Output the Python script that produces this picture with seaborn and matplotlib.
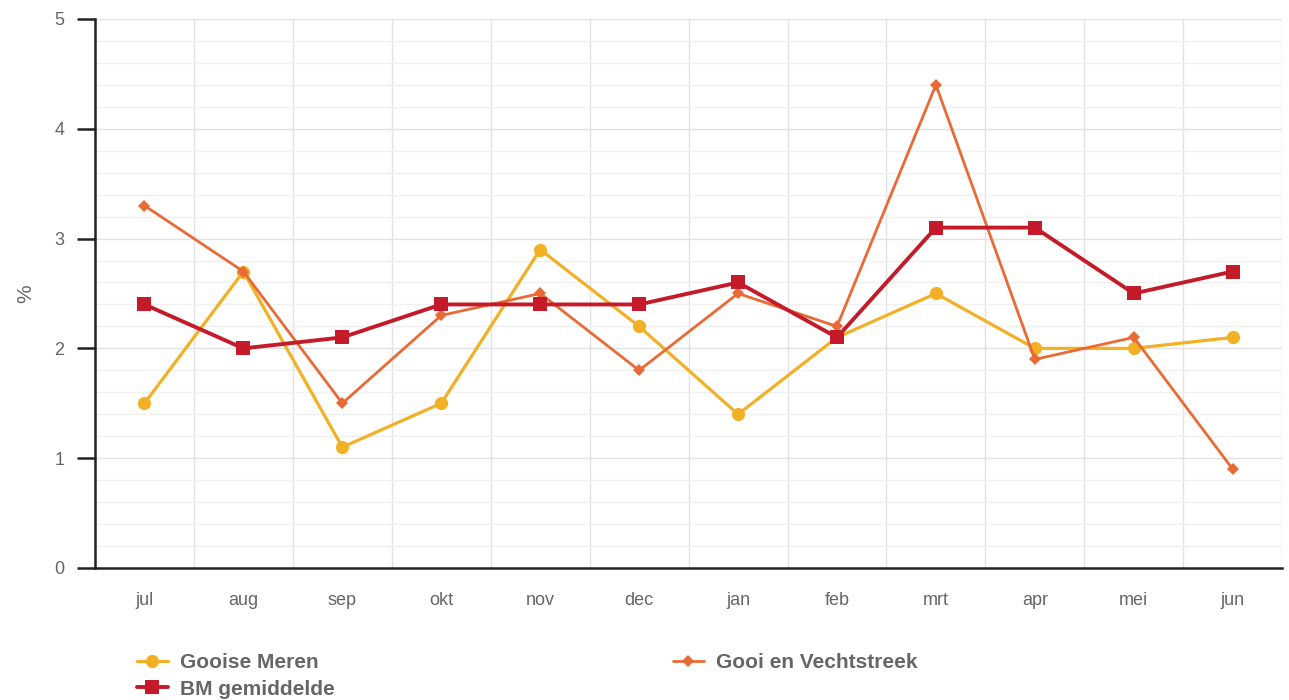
import matplotlib
matplotlib.use('Agg')
import matplotlib.pyplot as plt
import seaborn as sns
import numpy as np
from matplotlib.ticker import MultipleLocator

months = ['jul', 'aug', 'sep', 'okt', 'nov', 'dec',
          'jan', 'feb', 'mrt', 'apr', 'mei', 'jun']
gooise_meren = [1.5, 2.7, 1.1, 1.5, 2.9, 2.2, 1.4, 2.1, 2.5, 2.0, 2.0, 2.1]
gooi_vechtstreek = [3.3, 2.7, 1.5, 2.3, 2.5, 1.8, 2.5, 2.2, 4.4, 1.9, 2.1, 0.9]
bm_gemiddelde = [2.4, 2.0, 2.1, 2.4, 2.4, 2.4, 2.6, 2.1, 3.1, 3.1, 2.5, 2.7]

series = [
    ('Gooise Meren', gooise_meren, '#f2b125', 'o', 9.5, 2.3),
    ('Gooi en Vechtstreek', gooi_vechtstreek, '#ea6a36', 'D', 6.5, 2.0),
    ('BM gemiddelde', bm_gemiddelde, '#c41a2a', 's', 9.5, 2.8),
]

sns.set_style('white')
plt.rcParams['font.family'] = ['Liberation Sans', 'DejaVu Sans']

fig = plt.figure(figsize=(12.89, 7), dpi=100)
ax = fig.add_axes([0.0737, 0.1886, 0.921, 0.7843])

handles = {}
for name, vals, color, marker, ms, lw in series:
    sns.lineplot(x=months, y=vals, ax=ax, color=color, marker=marker,
                 markersize=ms, linewidth=lw, markeredgewidth=0,
                 sort=False, label=name)
ax.get_legend().remove()
for line, (name, *_rest) in zip(ax.get_lines(), series):
    handles[name] = line

ax.set_xlim(-0.5, len(months) - 0.5)
ax.set_ylim(0, 5)
ax.yaxis.set_major_locator(MultipleLocator(1))
ax.yaxis.set_minor_locator(MultipleLocator(0.2))
ax.xaxis.set_minor_locator(MultipleLocator(1, offset=0.5))

ax.grid(which='major', axis='y', color='#e2e2e2', linewidth=1)
ax.grid(which='minor', axis='y', color='#f0f0f0', linewidth=1)
ax.grid(which='minor', axis='x', color='#e2e2e2', linewidth=1)
ax.set_axisbelow(True)

for side in ['top', 'right']:
    ax.spines[side].set_visible(False)
for side in ['left', 'bottom']:
    ax.spines[side].set_color('#222222')
    ax.spines[side].set_linewidth(1.8)

ax.tick_params(axis='y', which='major', length=13, width=1.8, color='#222222',
               labelsize=13, labelcolor='#666666', pad=9, left=True)
ax.tick_params(axis='y', which='minor', length=0)
ax.tick_params(axis='x', which='both', length=0, labelsize=13,
               labelcolor='#666666', pad=17)
ax.set_xlabel('')
ax.set_ylabel('%', fontsize=15, color='#666666', labelpad=14)

order = ['Gooise Meren', 'BM gemiddelde', 'Gooi en Vechtstreek']
fig.legend([handles[n] for n in order], order, ncol=2, frameon=False,
           loc='upper left', bbox_to_anchor=(0.098, 0.0814),
           prop={'weight': 'bold', 'size': 15}, labelcolor='#666666',
           handlelength=1.5, handletextpad=0.6, columnspacing=16.2,
           labelspacing=0.35, borderpad=0)

fig.savefig('out.png', dpi=100)
